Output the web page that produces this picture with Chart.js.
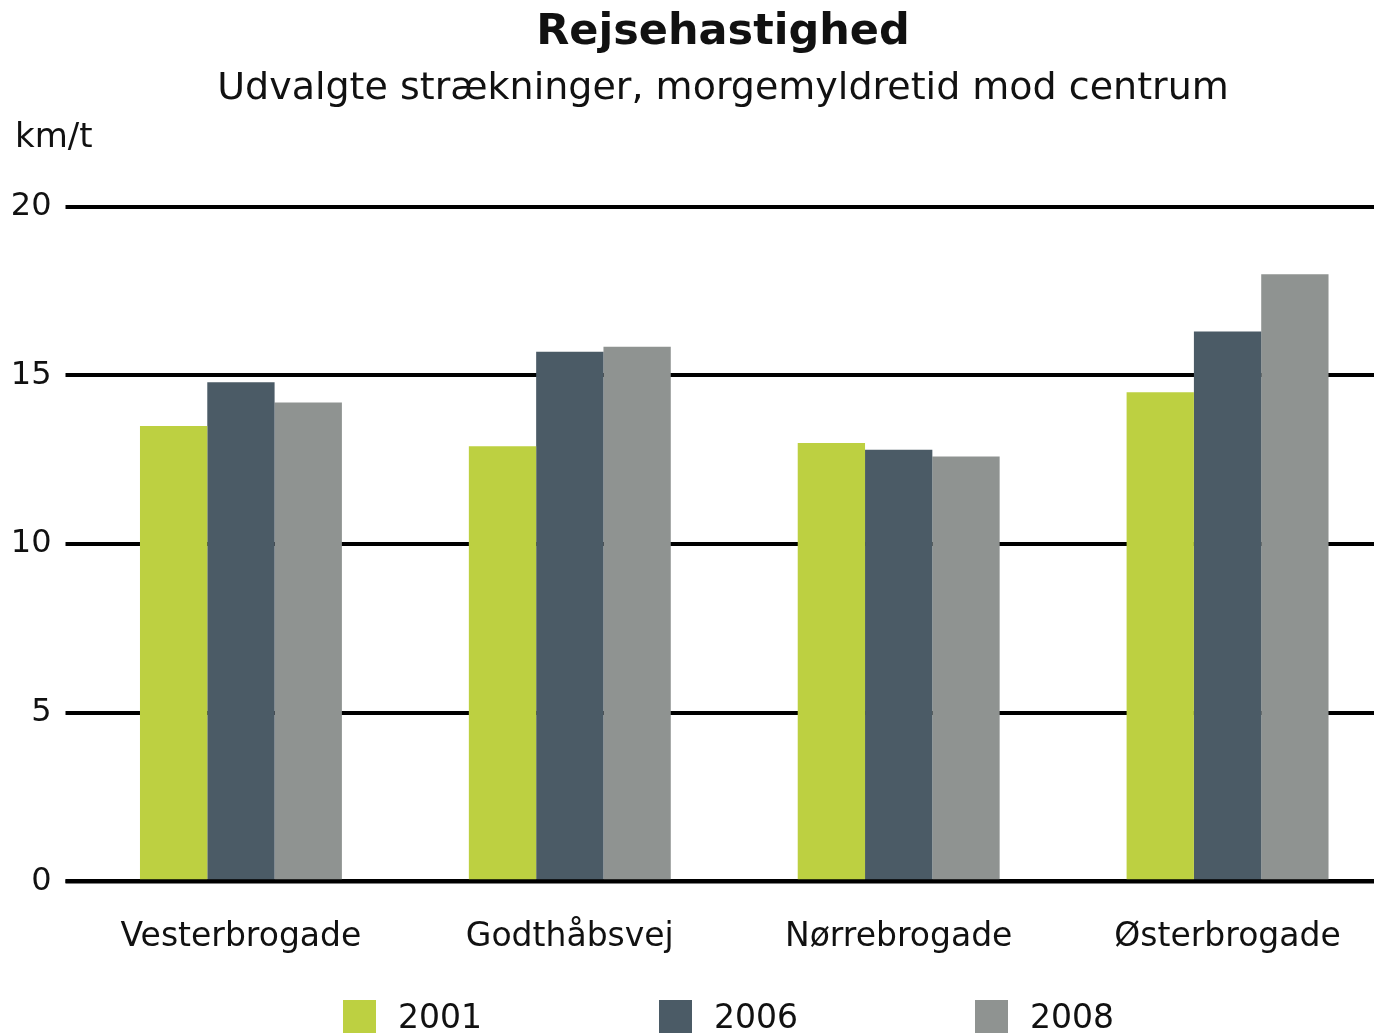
<!DOCTYPE html>
<html lang="da">
<head>
<meta charset="utf-8">
<title>Rejsehastighed</title>
<script src="https://cdn.jsdelivr.net/npm/chart.js@4.4.1/dist/chart.umd.min.js"></script>
<style>
  html, body { margin: 0; padding: 0; background: #fff; overflow: hidden; }
  body { width: 1374px; height: 1033px; position: relative; font-family: "DejaVu Sans", Verdana, sans-serif; }
  .chart-box { position: absolute; left: 0; top: 0; width: 1436px; height: 1000px; }
  .legend { position: absolute; left: 343px; top: 1000px; display: flex; }
  .legend-item { width: 316px; display: flex; align-items: center; height: 33px; }
  .legend-swatch { width: 33px; height: 33px; margin-right: 22px; }
  .legend-text { font-size: 33px; line-height: 33px; color: #111; }
</style>
</head>
<body>
<div class="chart-box"><canvas id="speedChart"></canvas></div>
<div class="legend" id="legend"></div>

<script>
// --- data ---
const categories = ["Vesterbrogade", "Godthåbsvej", "Nørrebrogade", "Østerbrogade"];
const years = ["2001", "2006", "2008"];
const values2001 = [13.5, 12.9, 13.0, 14.5];
const values2006 = [14.8, 15.7, 12.8, 16.3];
const values2008 = [14.2, 15.85, 12.6, 18.0];
const yTicks = [0, 5, 10, 15, 20];
const seriesColors = ["#bdd041", "#4b5b66", "#8f9391"];

const FONT = '"DejaVu Sans", Verdana, sans-serif';

// "km/t" unit label above the y axis, and the zero line redrawn over the bars
const unitLabel = {
  id: "unitLabel",
  afterDatasetsDraw(chart) {
    const ctx = chart.ctx;
    const yScale = chart.scales.y;
    const y0 = yScale.getPixelForValue(0);
    ctx.save();
    ctx.strokeStyle = "#000";
    ctx.lineWidth = 4;
    ctx.beginPath();
    ctx.moveTo(yScale.right - 11, y0);
    ctx.lineTo(chart.chartArea.right, y0);
    ctx.stroke();
    ctx.restore();
  },
  afterDraw(chart) {
    const ctx = chart.ctx;
    ctx.save();
    ctx.font = "34px " + FONT;
    ctx.fillStyle = "#111";
    ctx.textAlign = "left";
    ctx.textBaseline = "alphabetic";
    ctx.fillText("km/t", 15, chart.chartArea.top - 60);
    ctx.restore();
  }
};

const seriesValues = [values2001, values2006, values2008];

new Chart(document.getElementById("speedChart"), {
  type: "bar",
  data: {
    labels: categories,
    datasets: years.map((y, i) => ({
      label: y,
      data: seriesValues[i],
      backgroundColor: seriesColors[i],
      borderWidth: 0,
      categoryPercentage: 0.614,
      barPercentage: 1.0
    }))
  },
  options: {
    responsive: true,
    maintainAspectRatio: false,
    animation: false,
    layout: { padding: { left: 10, right: 0, top: 0, bottom: 7 } },
    plugins: {
      legend: { display: false },
      tooltip: { enabled: false },
      title: {
        display: true,
        text: "Rejsehastighed",
        color: "#111",
        font: { family: FONT, size: 43, weight: "bold" },
        padding: { top: 7, bottom: 0 }
      },
      subtitle: {
        display: true,
        text: "Udvalgte strækninger, morgemyldretid mod centrum",
        color: "#111",
        font: { family: FONT, size: 38 },
        padding: { top: 8, bottom: 94.6 }
      }
    },
    scales: {
      x: {
        grid: { display: false, drawTicks: false },
        border: { display: false },
        ticks: { color: "#111", font: { family: FONT, size: 33 }, padding: 36, maxRotation: 0 }
      },
      y: {
        min: 0,
        max: 20,
        afterBuildTicks: (scale) => { scale.ticks = yTicks.map(v => ({ value: v })); },
        afterFit: (scale) => { scale.width = 66.5; },
        grid: { color: "#000", lineWidth: 4, drawTicks: true, tickLength: 11 },
        border: { display: false },
        ticks: { color: "#111", font: { family: FONT, size: 32 }, padding: 14 }
      },
      // empty right axis, only reserves space so the plot runs past the window edge
      yRight: {
        position: "right",
        grid: { display: false, drawTicks: false },
        border: { display: false },
        ticks: { display: false },
        afterFit: (scale) => { scale.width = 44; }
      }
    }
  },
  plugins: [unitLabel]
});

// legend built from the same arrays
const legendEl = document.getElementById("legend");
legendEl.innerHTML = years
  .map((y, i) => `<div class="legend-item"><span class="legend-swatch" style="background:${seriesColors[i]}"></span><span class="legend-text">${y}</span></div>`)
  .join("");
</script>
</body>
</html>
